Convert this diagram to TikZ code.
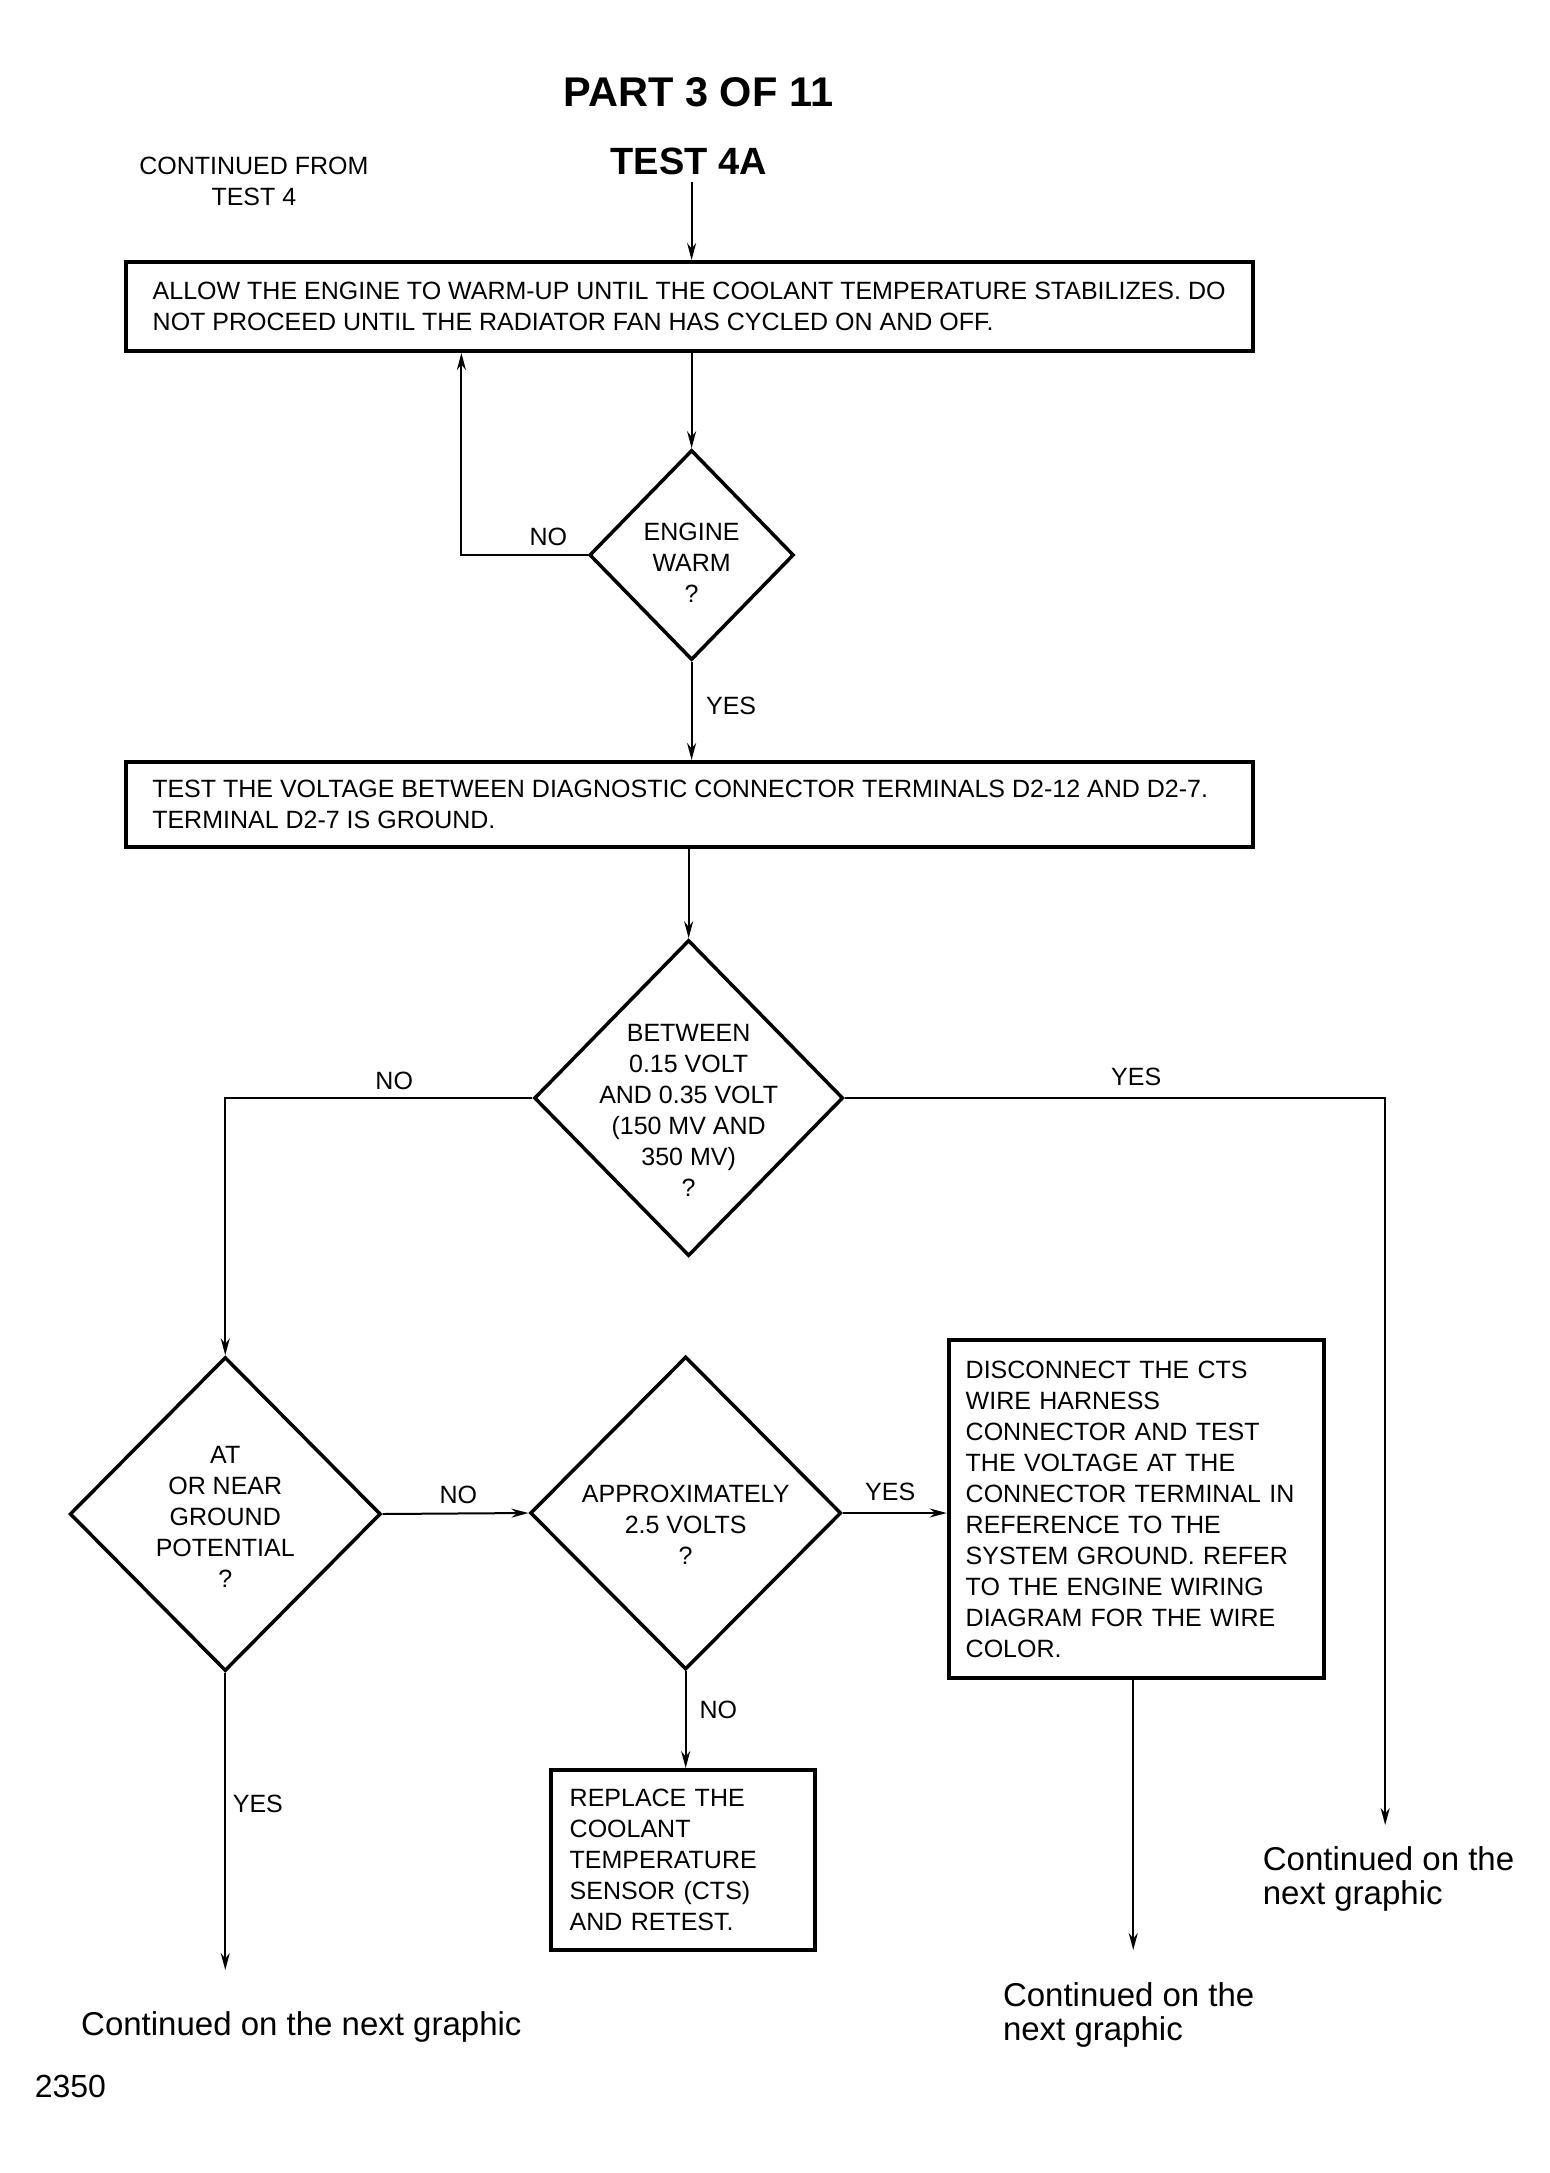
\documentclass[tikz,border=0pt]{standalone}
\usepackage{fontspec}
\setmainfont{Liberation Sans}
\usetikzlibrary{shapes.geometric,arrows.meta,calc}
\begin{document}
\begin{tikzpicture}[x=0.988pt,y=-1pt,
  txt/.style={font=\fontsize{25}{31}\selectfont, inner sep=0pt},
  boxnode/.style={draw, line width=4pt, rectangle, inner sep=0pt, font=\fontsize{25}{31}\selectfont},
  decision/.style={draw, diamond, line width=3.5pt, inner sep=0pt},
  conn/.style={line width=2pt},
  arr/.style={conn, -{Stealth[length=17pt,width=9pt]}},
  contd/.style={font=\fontsize{33}{34}\selectfont, inner sep=0pt, align=left, anchor=north west}
]
\useasboundingbox (0,0) rectangle (1567.81,2173);

% titles
\node[inner sep=0pt, font=\bfseries\fontsize{41.5}{41.5}\selectfont] (title) at (707,92) {PART 3 OF 11};
\node[inner sep=0pt, font=\bfseries\fontsize{38}{38}\selectfont] (test) at (697,161) {TEST 4A};
\node[txt, align=center] (cont) at (257,181) {CONTINUED FROM\\TEST 4};

% boxes
\node[boxnode, minimum width=1127pt, minimum height=89pt, align=left] (b1) at (697.5,306.5)
  {ALLOW THE ENGINE TO WARM-UP UNTIL THE COOLANT TEMPERATURE STABILIZES. DO\\NOT PROCEED UNTIL THE RADIATOR FAN HAS CYCLED ON AND OFF.};
\node[boxnode, minimum width=1127pt, minimum height=85pt, align=left] (b2) at (697.5,804.5)
  {TEST THE VOLTAGE BETWEEN DIAGNOSTIC CONNECTOR TERMINALS D2-12 AND D2-7.\hspace*{18pt}\\TERMINAL D2-7 IS GROUND.};
\node[boxnode, minimum width=375pt, minimum height=338pt, inner xsep=17pt, text width=341pt, align=left] (b3) at (1150,1509)
  {DISCONNECT THE CTS\\WIRE HARNESS\\CONNECTOR AND TEST\\THE VOLTAGE AT THE\\CONNECTOR TERMINAL IN\\REFERENCE TO THE\\SYSTEM GROUND. REFER\\TO THE ENGINE WIRING\\DIAGRAM FOR THE WIRE\\COLOR.};
\node[boxnode, minimum width=264pt, minimum height=180pt, inner xsep=18.5pt, text width=227pt, align=left] (b4) at (691.5,1860)
  {REPLACE THE\\COOLANT\\TEMPERATURE\\SENSOR (CTS)\\AND RETEST.};

% decisions
\node[decision, minimum width=204.5pt, minimum height=210pt] (d1) at (700,555) {};
\node[txt, align=center] (t1) at (700,563) {ENGINE\\WARM\\?};
\node[decision, minimum width=309pt, minimum height=316pt] (d2) at (697,1098) {};
\node[txt, align=center] (t2) at (697,1110) {BETWEEN\\0.15 VOLT\\AND 0.35 VOLT\\(150 MV AND\\350 MV)\\?};
\node[decision, minimum width=311pt, minimum height=314pt] (d3) at (228,1514) {};
\node[txt, align=center] (t3) at (228,1517) {AT\\OR NEAR\\GROUND\\POTENTIAL\\?};
\node[decision, minimum width=311pt, minimum height=313pt] (d4) at (694,1513) {};
\node[txt, align=center] (t4) at (694,1525) {APPROXIMATELY\\2.5 VOLTS\\?};

% branch labels
\node[txt] (no1) at (555,537) {NO};
\node[txt] (yes1) at (740,706) {YES};
\node[txt] (no2) at (399,1081) {NO};
\node[txt] (yes2) at (1150,1077) {YES};
\node[txt] (no3) at (464,1495) {NO};
\node[txt] (yes3) at (901,1492) {YES};
\node[txt] (no4) at (727,1710) {NO};
\node[txt] (yes4) at (261,1804) {YES};

% continuation texts
\node[contd] (cn1) at (82,2011) {Continued on the next graphic};
\node[contd] (cn2) at (1015,1982) {Continued on the\\next graphic};
\node[contd] (cn3) at (1278,1846) {Continued on the\\next graphic};
\node[inner sep=0pt, anchor=north west, font=\fontsize{32}{32}\selectfont] (num) at (35,2075) {2350};

% connectors
\coordinate (s0) at (700,182);
\coordinate (nof) at (467,555);
\coordinate (e2) at (1402,1825);
\coordinate (e3) at (225,1970);
\coordinate (e4) at (1147,1950);

\draw[arr] (s0) -- (s0 |- b1.north);
\draw[arr] (b1.south -| d1.north) -- (d1.north);
\draw[arr] (d1.west) -- (nof) -- (nof |- b1.south);
\draw[arr] (d1.south) -- (d1.south |- b2.north);
\draw[arr] (b2.south -| d2.north) -- (d2.north);
\draw[arr] (d2.west) -| (d3.north);
\draw[arr] (d2.east) -| (e2);
\draw[arr] (d3.east) -- (d4.west);
\draw[arr] (d4.east) -- (d4.east -| b3.west);
\draw[arr] (d4.south) -- (d4.south |- b4.north);
\draw[arr] (d3.south) -- (d3.south |- e3);
\draw[arr] (b3.south -| e4) -- (e4);
\end{tikzpicture}
\end{document}
